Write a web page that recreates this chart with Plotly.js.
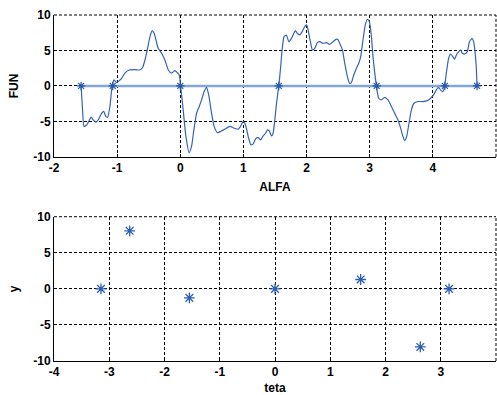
<!DOCTYPE html>
<html><head><meta charset="utf-8">
<script src="https://cdn.plot.ly/plotly-3.0.1.min.js"></script>
<style>html,body{margin:0;padding:0;background:#fff}#g{width:497px;height:395px}</style>
</head><body><div id="g"></div>
<script>
const alfa = [-1.571,-1.55,-1.525,-1.48,-1.446,-1.41,-1.378,-1.335,-1.30,-1.245,-1.21,-1.18,-1.15,-1.114,-1.087,-1.05,-1.008,-0.967,-0.93,-0.877,-0.81,-0.72,-0.64,-0.597,-0.56,-0.52,-0.48,-0.445,-0.413,-0.386,-0.35,-0.296,-0.244,-0.19,-0.138,-0.085,-0.05,-0.017,0.005,0.046,0.089,0.141,0.179,0.215,0.258,0.30,0.337,0.378,0.416,0.45,0.495,0.536,0.59,0.642,0.705,0.785,0.853,0.916,0.954,0.996,1.033,1.075,1.117,1.154,1.196,1.233,1.275,1.312,1.35,1.38,1.407,1.445,1.47,1.497,1.524,1.56,1.59,1.612,1.644,1.68,1.718,1.761,1.786,1.824,1.856,1.892,1.93,1.97,2.0,2.024,2.066,2.093,2.13,2.17,2.209,2.26,2.315,2.367,2.42,2.473,2.5,2.525,2.568,2.604,2.647,2.68,2.71,2.747,2.79,2.826,2.857,2.894,2.93,2.964,2.995,3.027,3.052,3.08,3.106,3.142,3.185,3.237,3.29,3.332,3.37,3.407,3.448,3.49,3.527,3.554,3.585,3.622,3.66,3.70,3.764,3.843,3.913,3.965,4.01,4.055,4.09,4.12,4.16,4.187,4.213,4.25,4.28,4.318,4.345,4.372,4.397,4.44,4.467,4.503,4.546,4.58,4.62,4.646,4.67,4.687,4.70];
const fun = [0,-3,-5.7,-5.5,-4.9,-4.4,-4.8,-5.1,-4.8,-3.85,-3.6,-4.3,-4.4,-2.9,-0.56,0.85,0.47,0.75,1.08,1.8,2.25,2.3,2.25,2.6,3.66,5.2,6.95,7.8,7.4,6.5,5.3,4.6,3.66,2.25,1.8,2.15,1.9,1.55,0,-3.4,-7.1,-9.4,-8.5,-6.2,-3.85,-2.9,-1.97,-0.8,-0.19,-1.27,-3.85,-5.7,-6.6,-6.4,-6.1,-5.7,-5.96,-6.1,-5.7,-5.0,-5.5,-7.1,-8.3,-8.17,-7.4,-7.3,-7.6,-7.04,-6.67,-6.2,-6.3,-7.04,-6.67,-4.8,-2.44,0,2.7,5.07,6.95,7.18,6.24,6.7,7.18,7.8,7.4,7.2,7.65,8.35,8.6,7.9,6.0,5.07,5.3,6.1,6.24,6.0,6.1,5.87,6.24,6.6,6.5,6.0,5.07,3.2,1.3,0.37,0.47,1.55,2.5,3.2,4.1,6.5,8.6,9.4,9.06,6.95,4.1,1.8,0,-1.74,-1.97,-1.6,-1.97,-2.68,-3.38,-4.08,-4.8,-5.96,-7.14,-7.7,-7.14,-5.26,-3.38,-2.44,-2.2,-2.2,-2.07,-1.74,-1.27,-0.56,-0.19,-0.56,-0.8,0,1.8,3.9,4.5,4.1,3.76,4.37,4.69,5.07,4.6,4.5,4.83,6.24,6.7,6.24,4.6,2.7,0];
const zeroX = [-1.571, 4.70];
const zeroY = [0, 0];
const rootX = [-1.571, -1.07, 0, 1.56, 3.11, 4.19, 4.70];
const rootY = [0, 0, 0, 0, 0, 0, 0];
const teta = [-3.15, -2.63, -1.55, 0, 1.55, 2.63, 3.15];
const yv = [0, 8.05, -1.25, 0, 1.3, -8.05, 0];
const topXTicks = [-2,-1,0,1,2,3,4,5];
const botXTicks = [-4,-3,-2,-1,0,1,2,3,4];
const yTicks = [-10,-5,0,5,10];

const F = 'Liberation Sans, Arial, sans-serif';
const tf = {family: F, size: 12, color: '#000', weight: 700};
const bold = v => v.map(t => '<b>' + t + '</b>');
function ax(extra){
  return Object.assign({
    showgrid: true, gridcolor: '#000', gridwidth: 1, griddash: '3px,2px',
    zeroline: false, showline: true, linecolor: '#000', linewidth: 1,
    ticks: 'inside', ticklen: 3, tickcolor: '#000', tickfont: tf, mirror: false
  }, extra);
}
const traces = [
  {x: zeroX, y: zeroY, mode: 'lines', line: {color: '#82a6dc', width: 2.5}, xaxis: 'x', yaxis: 'y', hoverinfo: 'skip'},
  {x: alfa, y: fun, mode: 'lines', line: {color: '#3463b4', width: 1.2, shape: 'spline', smoothing: 0.5}, xaxis: 'x', yaxis: 'y'},
  {x: rootX, y: rootY, mode: 'markers', marker: {symbol: 'asterisk-open', size: 7, color: '#2858a8', line: {color: '#2858a8', width: 1.2}}, xaxis: 'x', yaxis: 'y'},
  {x: teta, y: yv, mode: 'markers', marker: {symbol: 'asterisk-open', size: 9, color: '#2d5fb0', line: {color: '#2d5fb0', width: 1.3}}, xaxis: 'x2', yaxis: 'y2'}
];
const edge = (xr, yr, x0, y0, x1, y1) => ({type: 'line', xref: xr, yref: yr, x0: x0, y0: y0, x1: x1, y1: y1,
  line: {color: '#000', width: 1, dash: '3px,2px'}, layer: 'above'});
const layout = {
  width: 497, height: 395, showlegend: false,
  paper_bgcolor: '#fff', plot_bgcolor: '#fff',
  margin: {l: 54, r: 1, t: 15, b: 34},
  xaxis: ax({range: [-2, 5], tickvals: topXTicks, ticktext: bold(topXTicks), anchor: 'y', domain: [0, 1],
    title: {text: 'ALFA', font: tf, standoff: 8}}),
  yaxis: ax({range: [-10, 10], tickvals: yTicks, ticktext: bold(yTicks), anchor: 'x', domain: [0.59, 1],
    title: {text: 'FUN', font: tf, standoff: 12}}),
  xaxis2: ax({range: [-4, 4], tickvals: botXTicks, ticktext: bold(botXTicks), anchor: 'y2', domain: [0, 1],
    title: {text: 'teta', font: tf, standoff: 8}}),
  yaxis2: ax({range: [-10, 10], tickvals: yTicks, ticktext: bold(yTicks), anchor: 'x2', domain: [0, 0.417],
    title: {text: 'y', font: tf, standoff: 12}}),
  shapes: [
    edge('x domain', 'y domain', 0, 1, 1, 1),
    edge('x domain', 'y domain', 1, 0, 1, 1),
    edge('x2 domain', 'y2 domain', 0, 1, 1, 1),
    edge('x2 domain', 'y2 domain', 1, 0, 1, 1)
  ]
};
Plotly.newPlot('g', traces, layout, {staticPlot: true});
</script></body></html>
